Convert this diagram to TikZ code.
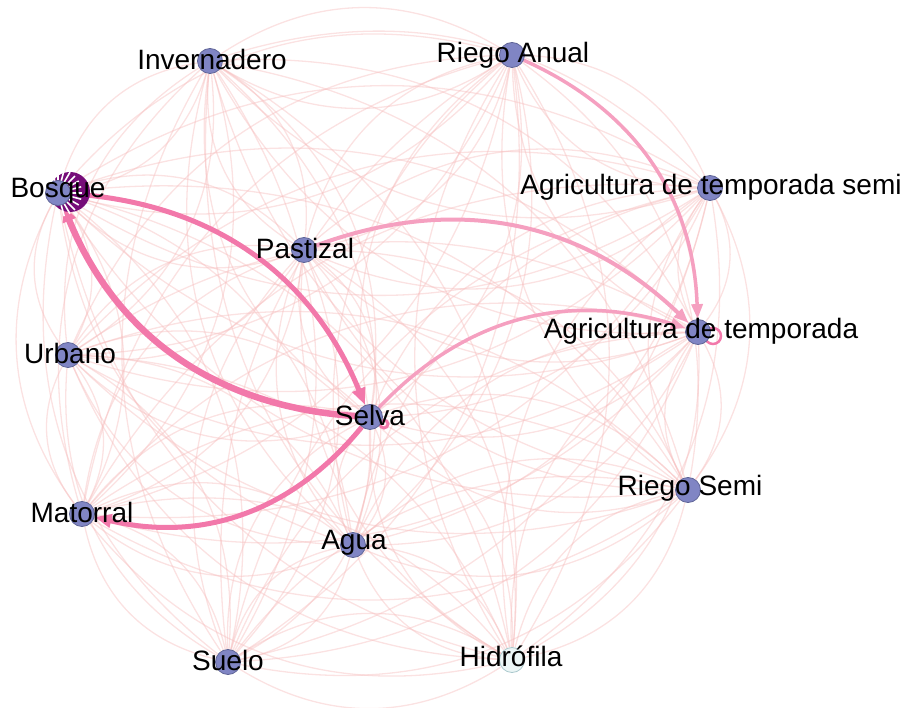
\documentclass[tikz,border=0pt]{standalone}
\usepackage{fontspec}
\setmainfont{Liberation Sans}
\usetikzlibrary{arrows.meta}
\definecolor{nodefill}{RGB}{128,133,196}
\definecolor{nodeline}{RGB}{95,100,150}
\definecolor{hydfill}{RGB}{236,246,246}
\definecolor{hydline}{RGB}{170,200,205}
\definecolor{faint}{RGB}{246,190,190}
\definecolor{hot}{RGB}{242,120,170}
\definecolor{warm}{RGB}{245,160,192}
\definecolor{loopc}{RGB}{118,12,120}
\pgfdeclarelayer{background}
\pgfsetlayers{background,main}
\begin{document}
\begin{tikzpicture}[x=1pt,y=-1pt,
  vtx/.style={circle,fill=nodefill,draw=nodeline,line width=0.8pt,minimum size=25pt,inner sep=0pt},
  hyd/.style={vtx,fill=hydfill,draw=hydline},
  lbl/.style={font=\fontsize{28}{30}\selectfont,inner sep=0pt,text=black},
  faintedge/.style={draw=faint,line width=1.3pt,opacity=0.45,bend left=32},
  hotedge/.style={draw=hot,bend left=32,-{Triangle[length=17pt,width=13pt]}},
  warmedge/.style={draw=warm,bend left=32,-{Triangle[length=15pt,width=11pt]}}]
\useasboundingbox (0,0) rectangle (906,708);
% nodes
\node[vtx] (inv) at (210,61) {};
\node[vtx] (ria) at (512,55) {};
\node[vtx] (bos) at (58,193) {};
\node[vtx] (ags) at (710,188) {};
\node[vtx] (pas) at (304,250) {};
\node[vtx] (agt) at (698,332) {};
\node[vtx] (urb) at (68,355) {};
\node[vtx] (sel) at (370,417) {};
\node[vtx] (rse) at (688,490) {};
\node[vtx] (mat) at (82,514) {};
\node[vtx] (agu) at (353,545) {};
\node[vtx] (sue) at (228,662) {};
\node[hyd] (hid) at (512,660) {};
\begin{pgfonlayer}{background}
% faint network
\foreach \a [count=\i] in {inv,ria,bos,ags,pas,agt,urb,sel,rse,mat,agu,sue,hid}{
  \foreach \b [count=\j] in {inv,ria,bos,ags,pas,agt,urb,sel,rse,mat,agu,sue,hid}{
    \ifnum\i=\j\else \draw[faintedge] (\a) to (\b);\fi
  }
}
% highlighted edges
\draw[hotedge,line width=6.5pt] (sel) to (bos);
\draw[hotedge,line width=5pt] (bos) to (sel);
\draw[hotedge,line width=5pt] (sel) to (mat);
\draw[warmedge,line width=4pt] (pas) to (agt);
\draw[warmedge,line width=3.5pt] (ria) to (agt);
\draw[warmedge,line width=3.5pt] (sel) to (agt);
% self loops
\fill[loopc] (70,192) circle (20pt);
\foreach \ang in {-75,-60,...,105}{
  \draw[white,line width=1.6pt] (bos.center) -- ++(\ang:24pt);
}
\draw[hot,line width=2.5pt] (713,336) circle (8pt);
\draw[hot,line width=3pt] (384,424) circle (4pt);
\end{pgfonlayer}
% labels
\node[lbl] (invL) at (212,59) {Invernadero};
\node[lbl] (riaL) at (513,55) {Riego Anual};
\node[lbl] (bosL) at (58,191) {Bosque};
\node[lbl] (agsL) at (711,187) {Agricultura de temporada semi};
\node[lbl] (pasL) at (305,248) {Pastizal};
\node[lbl] (agtL) at (701,331) {Agricultura de temporada};
\node[lbl] (urbL) at (70,353) {Urbano};
\node[lbl] (selL) at (370,415) {Selva};
\node[lbl] (rseL) at (690,488) {Riego Semi};
\node[lbl] (matL) at (82,512) {Matorral};
\node[lbl] (aguL) at (354,543) {Agua};
\node[lbl] (sueL) at (228,660) {Suelo};
\node[lbl] (hidL) at (511,656) {Hidrófila};
\end{tikzpicture}
\end{document}
